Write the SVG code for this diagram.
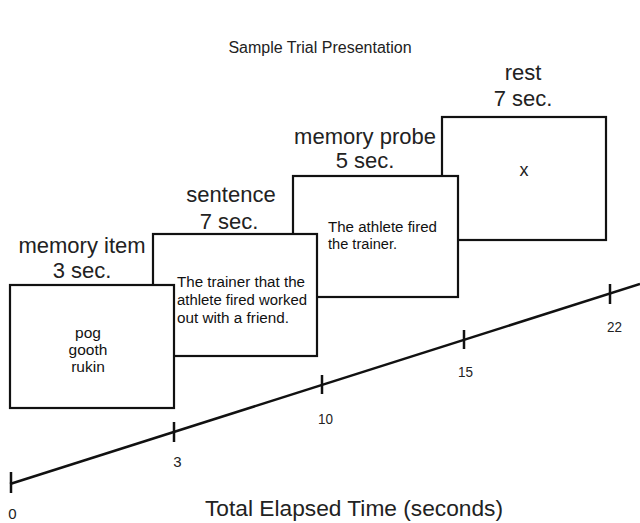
<svg xmlns="http://www.w3.org/2000/svg" width="640" height="523" viewBox="0 0 640 523">
<style>
.box{fill:#fff;stroke:#111;stroke-width:2.2}
.lbl{font-family:"Liberation Sans",Arial,sans-serif;font-size:22px;fill:#222;text-anchor:middle}
.in{font-family:"Liberation Sans Narrow","Liberation Sans",Arial,sans-serif;font-size:15.5px;fill:#111}
.tk{font-family:"Liberation Sans Narrow","Liberation Sans",Arial,sans-serif;font-size:15px;fill:#222;text-anchor:middle}
.ax{stroke:#111;stroke-width:2.5;fill:none}
</style>
<rect width="640" height="523" fill="#fff"/>
<text x="320" y="53" class="lbl" style="font-size:16px">Sample Trial Presentation</text>
<g id="rest">
<rect class="box" x="442" y="117" width="164" height="123"/>
<text class="lbl" x="523" y="80">rest</text>
<text class="lbl" x="523" y="106">7 sec.</text>
<text class="lbl" x="524" y="176" style="font-size:18px">x</text>
</g>
<g id="memory-probe">
<rect class="box" x="293" y="176" width="165" height="121"/>
<text class="lbl" x="365" y="144">memory probe</text>
<text class="lbl" x="365" y="168">5 sec.</text>
<text class="in" x="328" y="232" textLength="109" lengthAdjust="spacingAndGlyphs">The athlete fired</text>
<text class="in" x="328" y="249" textLength="69" lengthAdjust="spacingAndGlyphs">the trainer.</text>
</g>
<g id="sentence">
<rect class="box" x="153" y="234" width="164" height="122"/>
<text class="lbl" x="231" y="202">sentence</text>
<text class="lbl" x="229" y="229">7 sec.</text>
<text class="in" x="177" y="287" textLength="128" lengthAdjust="spacingAndGlyphs">The trainer that the</text>
<text class="in" x="177" y="305" textLength="130" lengthAdjust="spacingAndGlyphs">athlete fired worked</text>
<text class="in" x="177" y="323" textLength="112" lengthAdjust="spacingAndGlyphs">out with a friend.</text>
</g>
<g id="memory-item">
<rect class="box" x="10" y="285" width="164" height="123"/>
<text class="lbl" x="82" y="253">memory item</text>
<text class="lbl" x="82" y="278">3 sec.</text>
<text class="in" x="88" y="338" text-anchor="middle">pog</text>
<text class="in" x="88" y="355" text-anchor="middle">gooth</text>
<text class="in" x="88" y="372" text-anchor="middle">rukin</text>
</g>
<g id="timeline">
<line class="ax" x1="10" y1="484" x2="640" y2="284"/>
<line class="ax" x1="11" y1="472" x2="11" y2="493"/>
<line class="ax" x1="174" y1="422" x2="174" y2="442"/>
<line class="ax" x1="322" y1="375" x2="322" y2="394"/>
<line class="ax" x1="464" y1="330" x2="464" y2="349"/>
<line class="ax" x1="610" y1="284" x2="610" y2="304"/>
<text class="tk" x="12.5" y="519">0</text>
<text class="tk" x="177.5" y="467">3</text>
<text class="tk" x="325.5" y="424" textLength="15" lengthAdjust="spacingAndGlyphs">10</text>
<text class="tk" x="465.5" y="377" textLength="15" lengthAdjust="spacingAndGlyphs">15</text>
<text class="tk" x="614.5" y="332" textLength="15" lengthAdjust="spacingAndGlyphs">22</text>
<text class="lbl" x="354" y="516" textLength="298" lengthAdjust="spacingAndGlyphs">Total Elapsed Time (seconds)</text>
</g>
</svg>
